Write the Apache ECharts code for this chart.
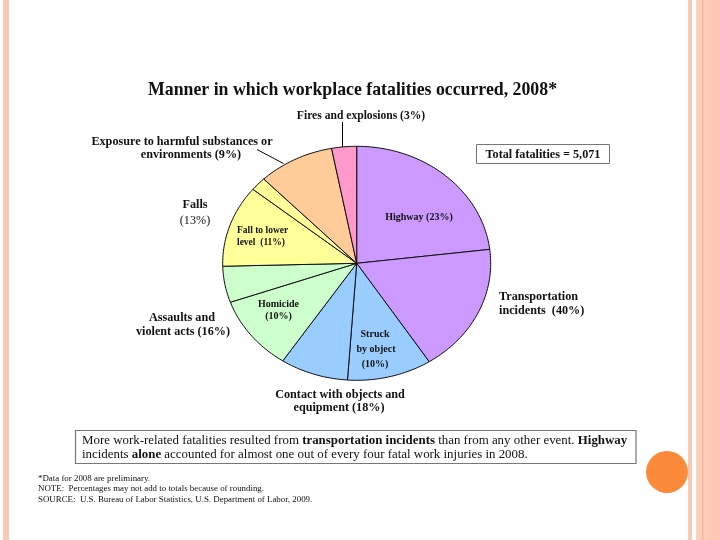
<!DOCTYPE html>
<html>
<head>
<meta charset="utf-8">
<script src="https://cdn.jsdelivr.net/npm/echarts@6/dist/echarts.min.js"></script>
<style>
html,body{margin:0;padding:0;background:#fff;}
#main{width:720px;height:540px;}
</style>
</head>
<body>
<div id="main"></div>
<script>
// ---- data (percent of total fatalities, clockwise from 12 o'clock) ----
const sliceNames = [
  'Highway', 'Other transportation', 'Struck by object', 'Other contact with objects',
  'Homicide', 'Other assaults', 'Fall to lower level', 'Other falls',
  'Exposure to harmful substances or environments', 'Fires and explosions'
];
const sliceValues = [23.1, 17.8, 10.2, 8.2, 10.3, 5.0, 11.3, 1.9, 9.2, 3.0];
const sliceColors = ['#cc99ff', '#cc99ff', '#99ccff', '#99ccff', '#ccffcc', '#ccffcc',
                     '#ffff99', '#ffff99', '#ffcc99', '#ff99cc'];
const titleText = 'Manner in which workplace fatalities occurred, 2008*';
const totalText = 'Total fatalities = 5,071';
const footnotes = [
  '*Data for 2008 are preliminary.',
  'NOTE:  Percentages may not add to totals because of rounding.',
  'SOURCE:  U.S. Bureau of Labor Statistics, U.S. Department of Labor, 2009.'
];

const total = sliceValues.reduce((a, b) => a + b, 0);
const cum = [0];
sliceValues.forEach(v => cum.push(cum[cum.length - 1] + v / total));

const SERIF = '"Liberation Serif", "DejaVu Serif", serif';

const chart = echarts.init(document.getElementById('main'));

function txt(x, y, text, size, bold, align) {
  return {
    type: 'text', x: x, y: y, z: 100,
    style: {
      text: text, fill: '#111', font: (bold ? 'bold ' : '') + size + 'px ' + SERIF,
      align: align || 'center', verticalAlign: 'middle'
    }
  };
}

const OUT = 12.2;
const IN = 10;

const graphics = [
  // slide decorations
  { type: 'rect', shape: { x: 3, y: 0, width: 6, height: 540 }, style: { fill: '#f9c8b6' } },
  { type: 'rect', shape: { x: 688, y: 0, width: 4, height: 540 }, style: { fill: '#f9c8b6' } },
  { type: 'rect', shape: { x: 696, y: 0, width: 24, height: 540 }, style: { fill: '#fdd0be' } },
  { type: 'rect', shape: { x: 702, y: 0, width: 1.5, height: 540 }, style: { fill: '#f6b89c' } },
  { type: 'rect', shape: { x: 707, y: 0, width: 13, height: 540 }, style: { fill: '#fcc9b6' } },
  { type: 'circle', shape: { cx: 667, cy: 472, r: 21 }, style: { fill: '#fb8b3b' } },

  // title
  txt(352.5, 90, titleText, 17.8, true),

  // labels
  txt(361, 116, 'Fires and explosions (3%)', OUT - 0.6, true),
  { type: 'line', z: 100, shape: { x1: 342.5, y1: 122, x2: 342.5, y2: 147 }, style: { stroke: '#000', lineWidth: 1 } },
  txt(182, 142, 'Exposure to harmful substances or', OUT, true),
  txt(191, 155, 'environments (9%)', OUT, true),
  { type: 'line', z: 100, shape: { x1: 257, y1: 149.5, x2: 283.5, y2: 163.5 }, style: { stroke: '#000', lineWidth: 1 } },

  { type: 'rect', shape: { x: 476.5, y: 144.5, width: 133, height: 19 }, style: { fill: '#fff', stroke: '#777', lineWidth: 1 } },
  txt(543, 154.5, totalText, OUT, true),

  txt(195, 205, 'Falls', OUT, true),
  txt(195, 221, '(13%)', OUT, false),
  txt(237, 231, 'Fall to lower', IN - 0.5, true, 'left'),
  txt(237, 243, 'level  (11%)', IN - 0.5, true, 'left'),
  txt(419, 217.5, 'Highway (23%)', IN, true),
  txt(499, 297, 'Transportation', OUT, true, 'left'),
  txt(499, 310.5, 'incidents  (40%)', OUT, true, 'left'),
  txt(278.5, 304, 'Homicide', IN, true),
  txt(278.5, 316, '(10%)', IN, true),
  txt(182, 318, 'Assaults and', OUT, true),
  txt(183, 332, 'violent acts (16%)', OUT, true),
  txt(375, 334, 'Struck', IN, true),
  txt(376, 349, 'by object', IN, true),
  txt(375, 364, '(10%)', IN, true),
  txt(340, 395, 'Contact with objects and', OUT, true),
  txt(339, 408, 'equipment (18%)', OUT, true),

  // bottom box
  { type: 'rect', shape: { x: 75.5, y: 430.5, width: 560.5, height: 33 }, style: { fill: '#fff', stroke: '#777', lineWidth: 1.2 } },
  {
    type: 'text', x: 82, y: 441, z: 100,
    style: {
      text: 'More work-related fatalities resulted from {b|transportation incidents} than from any other event. {b|Highway}',
      font: '12.9px ' + SERIF, fill: '#111', align: 'left', verticalAlign: 'middle',
      rich: { b: { font: 'bold 12.9px ' + SERIF, fill: '#111' } }
    }
  },
  {
    type: 'text', x: 82, y: 454.5, z: 100,
    style: {
      text: 'incidents {b|alone} accounted for almost one out of every four fatal work injuries in 2008.',
      font: '12.9px ' + SERIF, fill: '#111', align: 'left', verticalAlign: 'middle',
      rich: { b: { font: 'bold 12.9px ' + SERIF, fill: '#111' } }
    }
  },
  txt(38, 478.5, footnotes[0], 8.9, false, 'left'),
  txt(38, 489, footnotes[1], 8.9, false, 'left'),
  txt(38, 499.5, footnotes[2], 8.9, false, 'left')
];

const option = {
  backgroundColor: '#fff',
  animation: false,
  grid: { left: 222.7, top: 146.3, width: 268, height: 234 },
  xAxis: { type: 'value', min: -1, max: 1, show: false },
  yAxis: { type: 'value', min: -1, max: 1, show: false },
  series: [{
    type: 'custom',
    name: 'Manner of fatality',
    data: sliceValues.map((v, i) => ({ name: sliceNames[i], value: [0, 0, v] })),
    encode: { x: 0, y: 1 },
    renderItem: function (params, api) {
      const i = params.dataIndex;
      const s = cum[i], e = cum[i + 1];
      const pts = [api.coord([0, 0])];
      const n = Math.max(4, Math.ceil((e - s) * 240));
      for (let k = 0; k <= n; k++) {
        const t = (s + (e - s) * k / n) * Math.PI * 2;
        pts.push(api.coord([Math.sin(t), Math.cos(t)]));
      }
      return {
        type: 'polygon',
        shape: { points: pts },
        style: { fill: sliceColors[i], stroke: '#111', lineWidth: 1, lineJoin: 'round' }
      };
    }
  }],
  graphic: graphics
};
chart.setOption(option);
</script>
</body>
</html>
